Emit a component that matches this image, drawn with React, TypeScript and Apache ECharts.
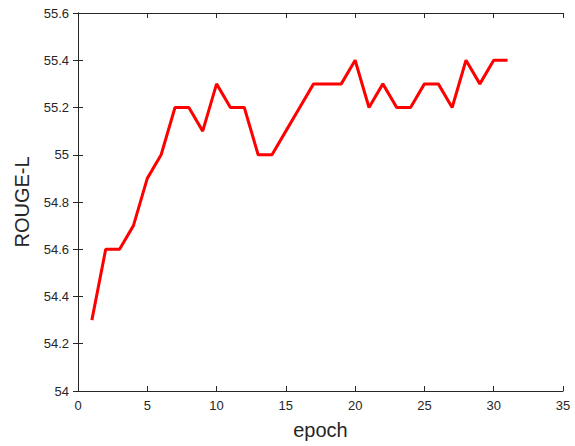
import React, { useEffect, useRef } from "react";
import * as echarts from "echarts";

const epochs = [1, 2, 3, 4, 5, 6, 7, 8, 9, 10, 11, 12, 13, 14, 15, 16, 17, 18, 19, 20, 21, 22, 23, 24, 25, 26, 27, 28, 29, 30, 31];
const rougeL = [54.3, 54.6, 54.6, 54.7, 54.9, 55.0, 55.2, 55.2, 55.1, 55.3, 55.2, 55.2, 55.0, 55.0, 55.1, 55.2, 55.3, 55.3, 55.3, 55.4, 55.2, 55.3, 55.2, 55.2, 55.3, 55.3, 55.2, 55.4, 55.3, 55.4, 55.4];

const FONT = "'Liberation Sans', Arial, Helvetica, sans-serif";
const AX = "#262626";

export default function App() {
  const ref = useRef<HTMLDivElement>(null);
  useEffect(() => {
    if (!ref.current) return;
    const chart = echarts.init(ref.current, undefined, { renderer: "svg" });
    const axisLine = { show: true, lineStyle: { color: AX, width: 1 } };
    const tick = { show: true, inside: true, length: 5, lineStyle: { color: AX, width: 1 } };
    chart.setOption({
      animation: false,
      backgroundColor: "#ffffff",
      grid: { left: 78, right: 12, top: 13, bottom: 55, containLabel: false },
      xAxis: [
        {
          type: "value",
          min: 0,
          max: 35,
          interval: 5,
          position: "bottom",
          axisLine,
          axisTick: tick,
          splitLine: { show: false },
          axisLabel: { color: AX, fontSize: 13, fontFamily: FONT, margin: 8 },
          name: "epoch",
          nameLocation: "middle",
          nameGap: 29,
          nameTextStyle: { color: AX, fontSize: 20, fontFamily: FONT },
        },
        {
          type: "value",
          min: 0,
          max: 35,
          interval: 5,
          position: "top",
          axisLine,
          axisTick: tick,
          splitLine: { show: false },
          axisLabel: { show: false },
        },
      ],
      yAxis: [
        {
          type: "value",
          min: 54,
          max: 55.6,
          interval: 0.2,
          position: "left",
          axisLine,
          axisTick: tick,
          splitLine: { show: false },
          axisLabel: { color: AX, fontSize: 13, fontFamily: FONT, margin: 9 },
          name: "ROUGE-L",
          nameLocation: "middle",
          nameGap: 46,
          nameTextStyle: { color: AX, fontSize: 20, fontFamily: FONT },
        },
        {
          type: "value",
          min: 54,
          max: 55.6,
          interval: 0.2,
          position: "right",
          axisLine,
          axisTick: tick,
          splitLine: { show: false },
          axisLabel: { show: false },
        },
      ],
      series: [
        {
          type: "line",
          data: epochs.map((e, i) => [e, rougeL[i]]),
          showSymbol: false,
          symbol: "none",
          lineStyle: { color: "#ff0000", width: 3 },
          itemStyle: { color: "#ff0000" },
        },
      ],
    });
    return () => chart.dispose();
  }, []);
  return <div ref={ref} style={{ position: "fixed", left: 0, top: 0, width: 575, height: 446 }} />;
}
